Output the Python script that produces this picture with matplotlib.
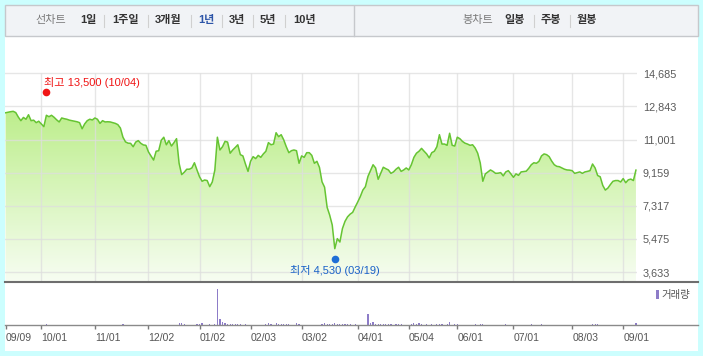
import numpy as np
import matplotlib
matplotlib.use("Agg")
import matplotlib.pyplot as plt
from matplotlib.colors import LinearSegmentedColormap
from matplotlib.patches import Rectangle
from matplotlib.lines import Line2D
from matplotlib.transforms import offset_copy

plt.rcParams['font.family'] = ['Liberation Sans', 'Noto Sans CJK KR']

# closing price per trading day, 09/09 .. 09/08 (day index 0..247)
prices = [
    12490, 12520, 12550, 12570, 12500, 12250, 12050, 12230, 12130, 12380,
    12050, 12080, 11940, 12020, 11870, 11720, 12350, 12270, 12350, 12240,
    12100, 11980, 12200, 12160, 12130, 12080, 12050, 12020, 11990, 11940,
    11600, 11870, 12050, 12130, 12090, 12200, 12130, 11900, 12050, 11980,
    11990, 11980, 11940, 11900, 11830, 11640, 11130, 10870, 10800, 10790,
    10600, 10860, 10940, 10790, 10700, 10680, 10310, 10090, 9860, 10350,
    10380, 10960, 11130, 10710, 10940, 10640, 10830, 11050, 9680, 9050,
    9180, 9350, 9350, 9420, 9710, 9310, 8930, 8680, 8750, 8720,
    8380, 8640, 9300, 11130, 10420, 10600, 10900, 10860, 10240, 10420,
    10560, 10710, 10160, 10090, 9640, 9230, 9790, 10050, 9940, 10120,
    10010, 10200, 10350, 10830, 10710, 10750, 11380, 11160, 11270, 10980,
    10600, 10270, 10380, 10420, 10380, 9680, 10090, 10010, 10270, 10270,
    10120, 9680, 9790, 9450, 8650, 8350, 7230, 6800, 6250, 4930,
    5490, 5300, 6050, 6450, 6700, 6850, 6950, 7250, 7530, 7830,
    8190, 8380, 8950, 9270, 9600, 9420, 8790, 9120, 9460, 9380,
    9310, 9120, 9200, 9350, 9460, 9230, 9310, 9420, 9310, 9600,
    10010, 10240, 10350, 10510, 10350, 10200, 9980, 10270, 10350, 10600,
    11270, 10750, 10750, 10680, 11350, 10680, 10640, 11130, 11050, 10900,
    10800, 10750, 10680, 10710, 10530, 10240, 9700, 8680, 9090, 9200,
    9310, 9230, 9120, 9130, 9160, 8980, 9200, 9270, 9090, 8900,
    9090, 9010, 9200, 9220, 9240, 9400, 9600, 9710, 9680, 9790,
    10090, 10200, 10160, 10050, 9800, 9600, 9510, 9490, 9420, 9350,
    9310, 9300, 9270, 9120, 9160, 9200, 9120, 9200, 9230, 9270,
    9640, 9420, 9000, 8930, 8450, 8190, 8300, 8500, 8680, 8720,
    8720, 8640, 8830, 8600, 8760, 8800, 8720, 9300,
]

tick_days = [0, 14, 35, 56, 76, 96, 116, 138, 158, 177, 199, 222, 242]
tick_labels = ['09/09', '10/01', '11/01', '12/02', '01/02', '02/03', '03/02',
               '04/01', '05/04', '06/01', '07/01', '08/03', '09/01']
y_ticks = [3633, 5475, 7317, 9159, 11001, 12843, 14685]

hi_day, hi_price, hi_date = 16, 13500, '10/04'
lo_day, lo_price, lo_date = 129, 4530, '03/19'

# volume (thousand shares), only days with a visible bar
vol_days = [16, 46, 68, 69, 70, 75, 76, 77, 80, 82, 83, 84, 85, 86, 87, 88, 89,
            90, 91, 92, 94, 102, 103, 104, 106, 107, 108, 109, 110, 111, 114,
            115, 124, 125, 126, 127, 128, 129, 130, 131, 132, 133, 134, 135,
            137, 142, 143, 144, 145, 146, 147, 148, 149, 150, 151, 153, 154,
            155, 159, 160, 161, 162, 163, 165, 167, 169, 170, 171, 173, 174,
            176, 177, 184, 186, 187, 196, 206, 210, 230, 231, 232, 247]
vol_vals = [130, 100, 230, 230, 130, 130, 130, 230, 100, 100, 3630, 630, 300,
            200, 130, 130, 130, 130, 130, 130, 100, 130, 230, 130, 200, 130,
            130, 130, 130, 130, 230, 130, 130, 230, 130, 130, 130, 230, 130,
            130, 130, 130, 130, 130, 130, 1100, 230, 300, 130, 130, 130, 130,
            130, 130, 100, 100, 100, 100, 100, 230, 130, 200, 130, 100, 100,
            100, 100, 100, 100, 300, 100, 100, 100, 100, 100, 100, 100, 100,
            100, 100, 100, 200]

W, H = 703, 356
fig = plt.figure(figsize=(W / 100, H / 100), dpi=100, facecolor='#ccfefe')


def box(x0, y0, x1, y1):
    # pixel box with top-left origin -> figure rect
    return [x0 / W, 1 - y1 / H, (x1 - x0) / W, (y1 - y0) / H]


def fx(x):
    return x / W


def fy(y):
    return 1 - y / H


# white card and tab bar
fig.patches.append(Rectangle((fx(5.3), fy(350.7)), fx(697.5) - fx(5.3), (350.7 - 5) / H,
                             transform=fig.transFigure, facecolor='white',
                             edgecolor='none', zorder=-3))
fig.patches.append(Rectangle((fx(5.3), fy(36)), fx(697.5) - fx(5.3), 31 / H,
                             transform=fig.transFigure, facecolor='#f1f3f6',
                             edgecolor='#c6c8cc', lw=1, zorder=-2))
fig.add_artist(Line2D([fx(354), fx(354)], [fy(6), fy(35.5)], color='#c6c8cc', lw=1))

ty = fy(20.5)
fig.text(fx(51), ty, '선차트', ha='center', va='center', fontsize=8, color='#7a7a7a')
menu_left = [('1일', 88), ('1주일', 126), ('3개월', 168), ('1년', 206), ('3년', 237),
             ('5년', 268), ('10년', 305)]
for name, xc in menu_left:
    fig.text(fx(xc), ty, name, ha='center', va='center', fontsize=8, fontweight='bold',
             color='#2d55a8' if name == '1년' else '#333333')
fig.text(fx(478), ty, '봉차트', ha='center', va='center', fontsize=8, color='#7a7a7a')
for name, xc in [('일봉', 515), ('주봉', 551), ('월봉', 587)]:
    fig.text(fx(xc), ty, name, ha='center', va='center', fontsize=8, fontweight='bold',
             color='#333333')
for xs in [104, 148, 190.6, 222, 253, 285, 534, 570]:
    fig.add_artist(Line2D([fx(xs), fx(xs)], [fy(15), fy(27)], color='#d0d0d0', lw=0.8))

# price panel
days = np.arange(len(prices))
ylo, yhi = 3077, 16704
xlo, xhi = -0.1, len(prices) - 0.7

ax = fig.add_axes(box(5.3, 37, 636.7, 282))
ax.set_facecolor('none')
ax.set_xlim(xlo, xhi)
ax.set_ylim(ylo, yhi)
for s in ax.spines.values():
    s.set_visible(False)

poly = ax.fill_between(days, prices, ylo, color='none', lw=0)
cmap = LinearSegmentedColormap.from_list('g', ['#f7fdf2', '#bdee8c'])
grad = np.linspace(0, 1, 256).reshape(-1, 1)
im = ax.imshow(grad, extent=[xlo, xhi, ylo, 12600], origin='lower', aspect='auto',
               cmap=cmap, zorder=1)
im.set_clip_path(poly.get_paths()[0], transform=ax.transData)

for v in y_ticks:
    ax.axhline(v, color='#dedede', lw=1, alpha=0.75, zorder=2)
ax.vlines(tick_days[1:], ylo, y_ticks[-1], color='#dedede', lw=1, alpha=0.75, zorder=2)

ax.plot(days, prices, color='#66c433', lw=1.1, zorder=4)

ax.yaxis.tick_right()
ax.set_yticks(y_ticks)
ax.set_yticklabels([f'{v:,}' for v in y_ticks])
ax.tick_params(axis='y', length=0, pad=4.5, labelsize=7.8, labelcolor='#5a5a5a')
ax.set_xticks([])

up = offset_copy(ax.transData, fig=fig, x=0, y=3, units='dots')
down = offset_copy(ax.transData, fig=fig, x=0, y=-3.4, units='dots')
ax.plot(hi_day, hi_price, 'o', ms=5.5, color='#f01414', mec='none', transform=up,
        zorder=5, clip_on=False)
ax.annotate(f'최고 {hi_price:,} ({hi_date})', (hi_day, hi_price), xytext=(-2.6, 9),
            textcoords='offset pixels', ha='left', va='baseline', fontsize=8,
            color='#f01414')
ax.plot(lo_day, lo_price, 'o', ms=5.5, color='#1f6fd6', mec='none', transform=down,
        zorder=5, clip_on=False)
ax.annotate(f'최저 {lo_price:,} ({lo_date})', (lo_day, lo_price), xytext=(0.5, -18),
            textcoords='offset pixels', ha='center', va='baseline', fontsize=8,
            color='#1a62c8')

# volume panel
ax2 = fig.add_axes(box(5.3, 282, 636.7, 325))
ax2.set_facecolor('none')
ax2.bar(vol_days, vol_vals, width=0.45, color='#8d7cc8', lw=0)
ax2.set_xlim(xlo, xhi)
ax2.set_ylim(0, 4300)
for s in ax2.spines.values():
    s.set_visible(False)
ax2.set_yticks([])
ax2.set_xticks(tick_days)
ax2.set_xticklabels(tick_labels)
for lbl in ax2.get_xticklabels():
    lbl.set_ha('left')
ax2.tick_params(axis='x', direction='out', length=3, width=1, color='#7a7a7a',
                labelsize=7.5, labelcolor='#555555', pad=2.5)

fig.add_artist(Line2D([fx(5.3), fx(697.5)], [fy(282), fy(282)], color='#6e6e6e', lw=1.5))
fig.add_artist(Line2D([fx(5.3), fx(697.5)], [fy(325), fy(325)], color='#8a8a8a', lw=1))

fig.patches.append(Rectangle((fx(655.5), fy(299)), 3 / W, 9 / H, transform=fig.transFigure,
                             facecolor='#8d7cc8', edgecolor='none'))
fig.text(fx(661), fy(295), '거래량', ha='left', va='center', fontsize=7.5, color='#555555')

fig.savefig('out.png', dpi=100, facecolor=fig.get_facecolor())
plt.close(fig)
